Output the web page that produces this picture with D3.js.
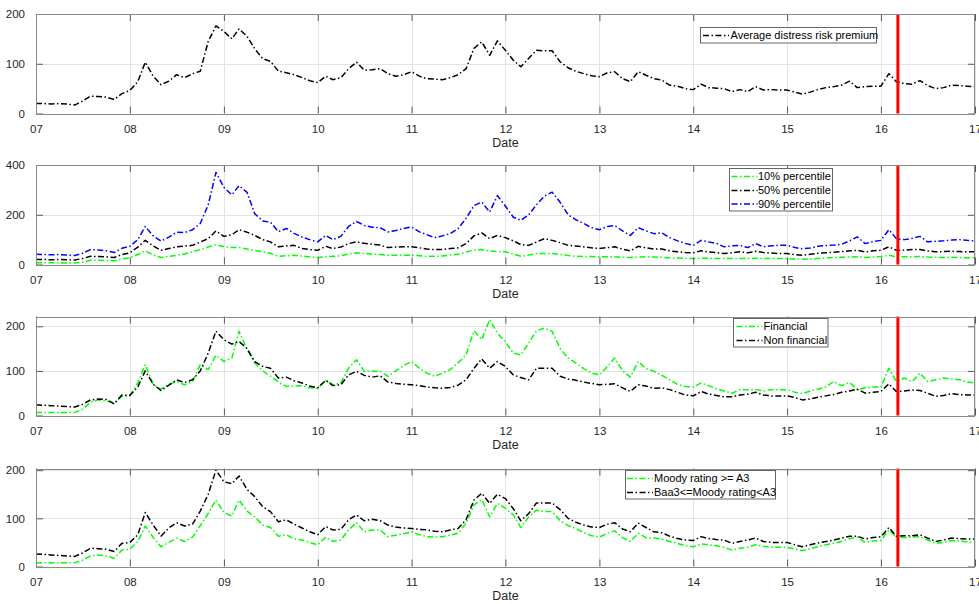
<!DOCTYPE html>
<html><head><meta charset="utf-8">
<script src="https://cdn.jsdelivr.net/npm/d3@7/dist/d3.min.js"></script>
<style>
body{margin:0;background:#fff;}
text{font-family:Arial,"Liberation Sans",Helvetica,sans-serif;}
</style>
</head><body>
<svg id="chart" width="979" height="604"></svg>
<script>
// ---------------- DATA (monthly, Jan 2007 .. Jan 2017) ----------------
const firstMonth = "2007-01-01";
const monthCount = 121;
const xTickYears = [2007,2008,2009,2010,2011,2012,2013,2014,2015,2016,2017];
const eventDate = "2016-03-07";
const xLabel = "Date";

const avgPremium = [
 20,20,19,20,19,17,25,35,34,33,28,40,
 46,64,103,75,58,65,78,72,80,85,145,176,
 165,150,170,155,130,110,105,85,82,78,72,66,
 62,75,68,72,90,103,87,88,90,80,75,78,
 84,75,70,69,68,72,78,90,131,144,117,146,
 127,107,94,111,127,126,126,104,92,85,80,76,
 74,82,84,70,64,84,77,70,67,57,55,50,
 48,59,52,51,50,44,48,44,54,47,48,47,
 47,43,39,43,48,52,54,57,65,52,54,55,
 55,80,64,60,59,66,56,50,52,57,56,55,
 54];

const pct10 = [
 7,7,7,6,6,6,9,17,17,16,15,22,
 27,40,55,38,28,33,37,42,51,60,70,80,
 72,68,68,62,56,51,45,33,35,37,34,30,
 28,31,33,35,42,47,44,42,40,37,37,37,
 37,35,33,33,34,38,41,50,58,60,54,52,
 51,42,33,38,44,44,44,40,36,33,32,32,
 31,31,31,29,28,30,31,30,29,27,26,25,
 24,25,25,24,24,24,24,24,25,24,24,24,
 24,22,21,22,24,26,28,29,30,31,28,30,
 32,37,31,31,31,32,30,29,28,29,28,27,
 27];
const pct50 = [
 20,20,19,20,19,18,24,33,32,31,28,40,
 47,70,97,75,57,64,71,74,77,90,104,135,
 113,120,140,130,117,100,91,71,74,77,64,60,
 57,73,64,70,84,91,85,81,78,68,70,71,
 71,67,62,60,60,64,67,84,115,127,104,117,
 108,95,80,77,90,104,97,88,77,74,71,67,
 64,68,71,62,55,73,67,62,62,55,51,48,
 47,55,50,48,44,47,51,47,53,48,46,44,
 44,40,37,41,45,47,49,52,55,57,50,55,
 57,71,57,58,60,60,55,51,52,53,52,51,
 51];
const pct90 = [
 41,40,39,40,38,36,45,60,58,55,48,65,
 73,100,153,115,94,110,130,128,140,165,240,370,
 310,280,317,290,204,175,170,132,145,125,110,100,
 91,117,100,113,153,173,157,150,148,131,137,145,
 151,131,120,108,115,124,144,185,237,251,211,277,
 235,190,178,200,240,275,291,250,200,180,165,148,
 140,153,157,135,117,148,135,124,127,108,95,85,
 77,97,91,85,71,75,77,68,84,71,75,77,
 77,68,63,66,73,76,78,81,95,111,84,92,
 97,140,104,100,105,113,91,93,95,98,100,97,
 95];

const financial = [
 7,7,7,7,7,7,14,30,35,33,28,43,
 45,73,114,70,59,70,76,69,76,114,103,135,
 121,129,189,148,118,100,88,75,65,66,67,62,
 61,79,69,73,106,125,99,99,99,88,100,112,
 121,106,95,88,95,103,118,136,190,170,215,185,
 165,140,136,163,190,196,189,150,129,118,105,95,
 91,110,129,100,86,121,105,99,90,80,70,65,
 64,73,67,60,55,50,58,58,58,55,58,58,
 58,52,49,55,59,64,76,67,74,58,62,64,
 64,106,76,84,76,95,76,80,84,82,80,75,
 73];
const nonFinancial = [
 24,23,22,21,20,19,25,35,37,36,26,46,
 45,64,100,70,56,68,80,74,80,100,140,189,
 170,160,166,150,121,110,106,84,86,78,73,66,
 62,79,67,69,91,99,90,86,89,75,72,70,
 69,67,64,62,61,63,68,80,106,127,106,121,
 110,91,85,80,106,106,106,88,82,79,75,72,
 69,70,71,62,54,69,66,61,62,58,52,46,
 44,54,48,45,42,42,46,48,52,46,44,44,
 44,40,35,37,41,44,47,52,55,59,50,52,
 54,71,54,55,57,56,50,43,45,49,47,46,
 46];

const ratingA3 = [
 8,8,8,8,8,8,13,22,24,22,17,34,
 36,52,84,60,41,50,59,52,61,85,110,138,
 112,105,138,115,103,86,81,63,66,57,55,50,
 45,61,52,55,76,91,72,76,76,62,65,68,
 72,66,62,61,62,65,69,90,128,139,103,131,
 121,107,81,103,117,114,114,95,85,79,70,64,
 61,69,74,60,52,69,60,59,57,52,48,43,
 41,47,45,43,40,34,38,40,45,42,40,40,
 40,36,33,37,41,45,48,52,58,61,50,53,
 54,76,61,60,61,62,55,48,50,54,53,51,
 50];
const ratingBaa3 = [
 26,25,24,23,22,21,28,38,37,36,31,48,
 50,66,112,86,63,80,91,84,88,115,150,200,
 176,172,188,160,145,124,114,93,97,88,80,72,
 66,83,76,77,97,107,95,98,95,86,82,80,
 79,77,76,73,72,76,79,97,138,152,131,150,
 141,120,95,110,132,132,132,118,100,92,86,82,
 81,88,91,78,72,90,81,72,70,63,58,55,
 54,62,58,56,55,48,52,55,59,52,50,50,
 50,45,41,45,49,52,55,59,63,63,57,60,
 62,81,63,64,64,66,59,52,55,59,58,57,
 57];

const legend1 = ["Average distress risk premium"];
const legend2 = ["10% percentile","50% percentile","90% percentile"];
const legend3 = ["Financial","Non financial"];
const legend4 = ["Moody rating >= A3","Baa3<=Moody rating<A3"];

// ---------------- LAYOUT / STYLE ----------------
const GREEN = "#00ff00", BLACK = "#000000", BLUE = "#0000ff", RED = "#ff0000";
const months = d3.timeMonth.range(new Date(firstMonth+"T00:00:00"), d3.timeMonth.offset(new Date(firstMonth+"T00:00:00"), monthCount));
const left = 36, right = 975;

const panels = [
 {top:14, bottom:113.5, ymax:200, yticks:[0,100,200],
  series:[{label:legend1[0], values:avgPremium, color:BLACK}],
  legend:{x:700.5, y:27.5, w:176, h:15.5, lineX:703, lineW:26, textX:730.5, rows:[35.5]}},
 {top:165, bottom:264.5, ymax:400, yticks:[0,200,400],
  series:[{label:legend2[0], values:pct10, color:GREEN},
          {label:legend2[1], values:pct50, color:BLACK},
          {label:legend2[2], values:pct90, color:BLUE}],
  legend:{x:729.5, y:168.5, w:103, h:42.5, lineX:731.5, lineW:26, textX:758, rows:[176.5,190.5,204]}},
 {top:316.5, bottom:415.5, ymax:222, yticks:[0,100,200],
  series:[{label:legend3[0], values:financial, color:GREEN},
          {label:legend3[1], values:nonFinancial, color:BLACK}],
  legend:{x:733.5, y:318.5, w:94.5, h:28.5, lineX:736.5, lineW:26, textX:763.5, rows:[326.5,340.5]}},
 {top:468.5, bottom:566.5, ymax:203.5, yticks:[0,100,200],
  series:[{label:legend4[0], values:ratingA3, color:GREEN},
          {label:legend4[1], values:ratingBaa3, color:BLACK}],
  legend:{x:625.5, y:470.5, w:150, h:28.5, lineX:627, lineW:26, textX:654, rows:[478.5,492.5]}}
];

const svg = d3.select("#chart");
const x = d3.scaleTime()
  .domain([new Date("2007-01-01T00:00:00"), new Date("2017-01-01T00:00:00")])
  .range([left, right]);
const xTicks = xTickYears.map(y => new Date(y,0,1));
const fmt = d3.timeFormat("%y");

panels.forEach(p => {
  const y = d3.scaleLinear().domain([0, p.ymax]).range([p.bottom, p.top]);
  const g = svg.append("g");
  // background
  g.append("rect").attr("x",left).attr("y",p.top).attr("width",right-left).attr("height",p.bottom-p.top).attr("fill","#fff");
  // grid
  g.append("g").selectAll("line").data(xTicks).join("line")
    .attr("x1",d=>Math.round(x(d))+0.5).attr("x2",d=>Math.round(x(d))+0.5)
    .attr("y1",p.top).attr("y2",p.bottom).attr("stroke","#e3e3e3").attr("stroke-width",1);
  g.append("g").selectAll("line").data(p.yticks).join("line")
    .attr("x1",left).attr("x2",right)
    .attr("y1",d=>Math.round(y(d))+0.5).attr("y2",d=>Math.round(y(d))+0.5)
    .attr("stroke","#e3e3e3").attr("stroke-width",1);

  // series
  const line = d3.line().x((d,i)=>x(months[i])).y(d=>y(d));
  p.series.forEach(s => {
    g.append("path").datum(s.values).attr("d", line)
      .attr("fill","none").attr("stroke", s.color).attr("stroke-width",1.5)
      .attr("stroke-dasharray","6,2.5,1.5,2.5").attr("stroke-linejoin","round");
  });

  // red event line
  g.append("line").attr("x1",x(new Date(eventDate+"T00:00:00"))).attr("x2",x(new Date(eventDate+"T00:00:00")))
    .attr("y1",p.top).attr("y2",p.bottom).attr("stroke",RED).attr("stroke-width",3);

  // axes via d3 axis
  const xAxis = d3.axisBottom(x).tickValues(xTicks).tickFormat(fmt).tickSizeInner(-7).tickSizeOuter(0).tickPadding(11);
  const gx = g.append("g").attr("transform",`translate(0,${p.bottom})`).call(xAxis);
  gx.select(".domain").remove();
  gx.selectAll(".tick line").attr("stroke","#333").attr("stroke-width",0.8);
  gx.selectAll("text").attr("fill","#262626").attr("font-size",11.5);
  const xTop = d3.axisTop(x).tickValues(xTicks).tickFormat("").tickSizeInner(-7).tickSizeOuter(0);
  const gxt = g.append("g").attr("transform",`translate(0,${p.top})`).call(xTop);
  gxt.select(".domain").remove();
  gxt.selectAll(".tick line").attr("stroke","#333").attr("stroke-width",0.8);

  const yAxis = d3.axisLeft(y).tickValues(p.yticks).tickSizeInner(-7).tickSizeOuter(0).tickPadding(11);
  const gy = g.append("g").attr("transform",`translate(${left},0)`).call(yAxis);
  gy.select(".domain").remove();
  gy.selectAll(".tick line").attr("stroke","#333").attr("stroke-width",0.8);
  gy.selectAll("text").attr("fill","#262626").attr("font-size",11.5);
  const yRight = d3.axisRight(y).tickValues(p.yticks).tickFormat("").tickSizeInner(-7).tickSizeOuter(0);
  const gyr = g.append("g").attr("transform",`translate(${right},0)`).call(yRight);
  gyr.select(".domain").remove();
  gyr.selectAll(".tick line").attr("stroke","#333").attr("stroke-width",0.8);

  // box
  g.append("rect").attr("x",left+0.5).attr("y",Math.round(p.top)+0.5)
    .attr("width",right-left-1).attr("height",Math.round(p.bottom)-Math.round(p.top))
    .attr("fill","none").attr("stroke","#8a8a8a").attr("stroke-width",1);

  // x label
  g.append("text").attr("x",(left+right)/2).attr("y",p.bottom+33)
    .attr("text-anchor","middle").attr("font-size",12.5).attr("fill","#262626").text(xLabel);

  // legend
  const L = p.legend;
  const lg = g.append("g");
  lg.append("rect").attr("x",L.x).attr("y",L.y).attr("width",L.w).attr("height",L.h)
    .attr("fill","#fff").attr("stroke","#666").attr("stroke-width",1);
  p.series.forEach((s,i) => {
    lg.append("line").attr("x1",L.lineX).attr("x2",L.lineX+L.lineW)
      .attr("y1",L.rows[i]).attr("y2",L.rows[i]).attr("stroke",s.color).attr("stroke-width",1.5)
      .attr("stroke-dasharray","6,2.5,1.5,2.5");
    lg.append("text").attr("x",L.textX).attr("y",L.rows[i]).attr("dy","0.35em")
      .attr("font-size",11).attr("fill","#000").text(s.label);
  });
});
</script>
</body></html>
